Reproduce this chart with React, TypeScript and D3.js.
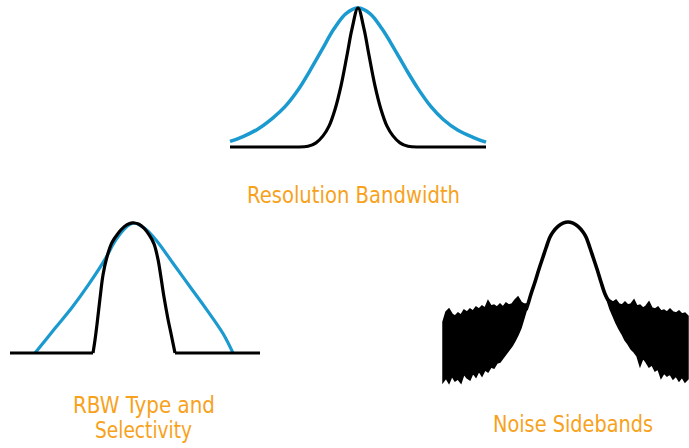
import React from 'react';
import * as d3 from 'd3';

// ---------- Data (offset from centre frequency, relative amplitude) ----------
// Panel 1: Resolution Bandwidth
const rbwWideOffsets = [-128, -115, -100, -85, -73, -60, -48, -36, -24, -12, 0, 12, 24, 36, 48, 60, 73, 85, 100, 115, 128];
const rbwWideAmps = [0.04, 0.075, 0.13, 0.21, 0.29, 0.41, 0.55, 0.7, 0.85, 0.96, 1, 0.96, 0.85, 0.71, 0.56, 0.42, 0.29, 0.2, 0.12, 0.07, 0.035];
const rbwNarrowOffsets = [-128, -60, -50, -42, -35, -29, -23, -17, -11, -6, 0, 6, 11, 17, 23, 29, 35, 42, 50, 60, 128];
const rbwNarrowAmps = [0, 0, 0.005, 0.03, 0.08, 0.15, 0.27, 0.44, 0.66, 0.85, 1, 0.85, 0.66, 0.44, 0.27, 0.15, 0.08, 0.03, 0.005, 0, 0];

// Panel 2: RBW Type and Selectivity
const gaussOffsets = [-99, -79, -62, -46, -29, -19, -9, 0, 12, 23, 39, 56, 73, 89, 99];
const gaussAmps = [0, 0.19, 0.35, 0.52, 0.72, 0.86, 0.96, 1, 0.95, 0.86, 0.69, 0.51, 0.33, 0.15, 0];
const flatOffsets = [-124, -41, -39, -37, -34, -31, -27, -22, -16, -10, -5, 0, 5, 10, 15, 20, 24, 27, 30, 34, 37, 41, 126];
const flatAmps = [0, 0, 0.1, 0.22, 0.42, 0.6, 0.74, 0.85, 0.92, 0.97, 0.995, 1, 0.99, 0.96, 0.91, 0.84, 0.72, 0.58, 0.43, 0.26, 0.15, 0, 0];

// Panel 3: Noise Sidebands (levels in dB)
const signalOffsets = [-42, -40, -37, -33, -29, -25, -22, -18, -15, -10, -5, 0, 5, 10, 15, 18, 22, 25, 29, 33, 37, 40];
const signalLevels = [-44, -41, -36, -30, -23.5, -17.5, -13, -7.5, -5, -2.2, -0.6, 0, -0.6, -2.2, -5, -7.5, -13, -17.5, -23.5, -30, -36, -39];

const noiseStep = 3;
const noiseLeftStart = -125;
const noiseLeftTop = [-50, -45, -43.5, -46, -47, -45.5, -46.5, -44, -45, -43.5, -44.5, -42.5, -43.5, -42, -43, -39.5, -42, -41.5, -42.5, -41, -42.5, -40.5, -41.5, -41, -39, -37.5, -40, -41, -41];
const noiseLeftBottom = [-80, -78, -80.5, -77, -79.5, -78.5, -80.5, -76, -78, -79, -75.5, -77.5, -74.5, -77, -74, -75, -72.5, -73, -70.5, -70, -68, -66, -64, -62, -59.5, -56.5, -53, -48, -43];
const noiseRightStart = 39;
const noiseRightTop = [-38, -39, -40, -39, -41, -41.5, -40, -41.5, -41, -39, -42, -41.5, -43, -42, -40, -43, -43.5, -42.5, -44.5, -44, -45, -43.5, -45, -45.5, -44.5, -46, -45.5, -47];
const noiseRightBottom = [-39, -43.5, -47, -50.5, -53.5, -56, -59, -61, -63.5, -65, -67, -72, -68, -70, -72.5, -71.5, -74.5, -73.5, -78, -75.5, -77, -76, -78.5, -77, -79.5, -77.5, -80, -78.5];

const labelRbw = ['Resolution Bandwidth'];
const labelType = ['RBW Type and', 'Selectivity'];
const labelNoise = ['Noise Sidebands'];

const BLUE = '#1b9ad0';
const ORANGE = '#f7a21c';
const FONT = '"Liberation Sans Narrow", "Arial Narrow", "DejaVu Sans Condensed", "Roboto Condensed", sans-serif';

type P = [number, number];
const zip = (a: number[], b: number[]): P[] => a.map((v, i) => [v, b[i]]);

export default function App() {
  const smooth = d3.curveCatmullRom.alpha(0.5);

  // Panel 1 scales
  const x1 = d3.scaleLinear().domain([-128, 128]).range([230, 486]);
  const y1 = d3.scaleLinear().domain([0, 1]).range([147, 8]);
  const l1 = d3.line<P>().x(d => x1(d[0])).y(d => y1(d[1])).curve(smooth);
  const l1lin = d3.line<P>().x(d => x1(d[0])).y(d => y1(d[1]));

  // Panel 2 scales
  const x2 = d3.scaleLinear().domain([-124, 126]).range([10, 260]);
  const y2 = d3.scaleLinear().domain([0, 1]).range([353, 223]);
  const l2 = d3.line<P>().x(d => x2(d[0])).y(d => y2(d[1])).curve(smooth);
  const l2lin = d3.line<P>().x(d => x2(d[0])).y(d => y2(d[1]));

  // Panel 3 scales
  const x3 = d3.scaleLinear().domain([-125, 121]).range([443, 689]);
  const y3 = d3.scaleLinear().domain([-80, 0]).range([382, 222]);
  const l3 = d3.line<P>().x(d => x3(d[0])).y(d => y3(d[1])).curve(smooth);
  const poly = d3.line<P>().x(d => x3(d[0])).y(d => y3(d[1])).curve(d3.curveLinearClosed);

  const noisePoly = (start: number, top: number[], bottom: number[]) => {
    const t: P[] = top.map((v, i) => [start + i * noiseStep, v]);
    const b: P[] = bottom.map((v, i) => [start + i * noiseStep, v] as P).reverse();
    return poly([...t, ...b]) || '';
  };

  // Flat baseline ends drawn straight, the response hump drawn smooth
  const narrow = zip(rbwNarrowOffsets, rbwNarrowAmps);
  const flat = zip(flatOffsets, flatAmps);
  const ends = (pts: P[]) => [[pts[0], pts[1]], [pts[pts.length - 2], pts[pts.length - 1]]] as P[][];
  const hump = (pts: P[]) => pts.slice(1, pts.length - 1);

  const textStyle = { fontFamily: FONT, fontSize: 23, fill: ORANGE } as React.CSSProperties;

  return (
    <svg width={689} height={448} style={{ position: 'absolute', left: 0, top: 0, background: '#fff' }}>
      {/* Panel 1 */}
      <path d={l1(zip(rbwWideOffsets, rbwWideAmps)) || ''} fill="none" stroke={BLUE} strokeWidth={3.5} />
      {ends(narrow).map((seg, i) => (
        <path key={i} d={l1lin(seg) || ''} fill="none" stroke="#000" strokeWidth={3.2} />
      ))}
      <path d={l1(hump(narrow)) || ''} fill="none" stroke="#000" strokeWidth={3.2} />
      <text x={247} y={203} textLength={213} lengthAdjust="spacingAndGlyphs" style={textStyle}>{labelRbw[0]}</text>

      {/* Panel 2 */}
      <path d={l2(zip(gaussOffsets, gaussAmps)) || ''} fill="none" stroke={BLUE} strokeWidth={3.2} />
      {ends(flat).map((seg, i) => (
        <path key={i} d={l2lin(seg) || ''} fill="none" stroke="#000" strokeWidth={3.2} />
      ))}
      <path d={l2(hump(flat)) || ''} fill="none" stroke="#000" strokeWidth={3.2} />
      <text x={73} y={413} textLength={142} lengthAdjust="spacingAndGlyphs" style={textStyle}>{labelType[0]}</text>
      <text x={95} y={438} textLength={97} lengthAdjust="spacingAndGlyphs" style={textStyle}>{labelType[1]}</text>

      {/* Panel 3 */}
      <path d={noisePoly(noiseLeftStart, noiseLeftTop, noiseLeftBottom)} fill="#000" stroke="#000" strokeWidth={1.5} strokeLinejoin="miter" />
      <path d={noisePoly(noiseRightStart, noiseRightTop, noiseRightBottom)} fill="#000" stroke="#000" strokeWidth={1.5} strokeLinejoin="miter" />
      <path d={l3(zip(signalOffsets, signalLevels)) || ''} fill="none" stroke="#000" strokeWidth={3.6} />
      <text x={493} y={432} textLength={160} lengthAdjust="spacingAndGlyphs" style={textStyle}>{labelNoise[0]}</text>
    </svg>
  );
}
